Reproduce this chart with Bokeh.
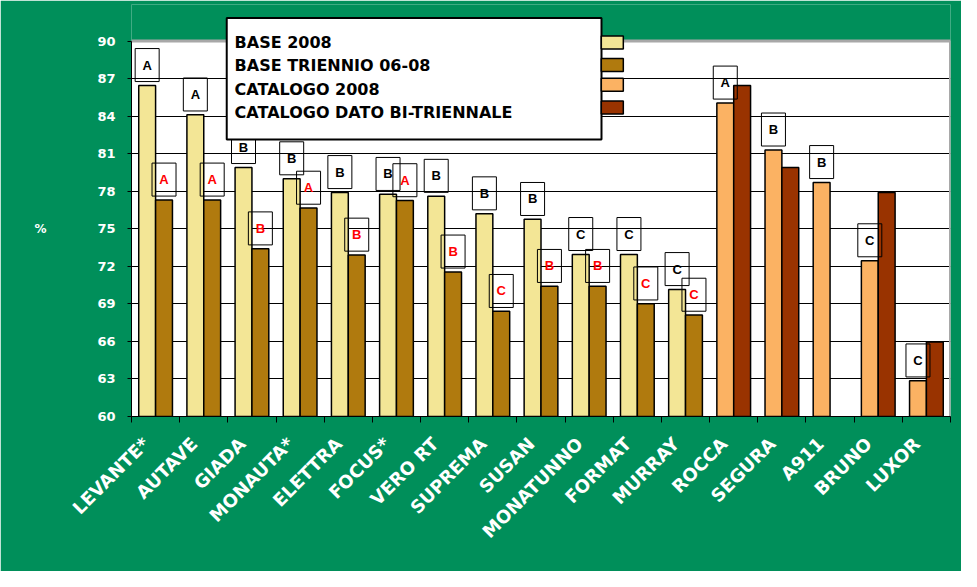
import math
import pandas as pd
from bokeh.plotting import figure
from bokeh.models import (ColumnDataSource, Range1d, LinearAxis, FixedTicker, Grid)
from bokeh.transform import dodge
from bokeh.core.properties import value
from bokeh.embed import file_html
from bokeh.resources import INLINE

# ---------------- data ----------------
categories = ["LEVANTE*", "AUTAVE", "GIADA", "MONAUTA*", "ELETTRA", "FOCUS*", "VERO RT",
              "SUPREMA", "SUSAN", "MONATUNNO", "FORMAT", "MURRAY", "ROCCA", "SEGURA",
              "A911", "BRUNO", "LUXOR"]
groups = ["BASE"] * 12 + ["CATALOGO"] * 5
values_2008 = [86.45, 84.1, 79.9, 79.0, 77.9, 77.75, 77.6, 76.2, 75.75, 72.95, 72.95, 70.15,
               85.05, 81.3, 78.7, 72.45, 62.85]
values_multi = [77.3, 77.3, 73.4, 76.65, 72.9, 77.25, 71.55, 68.4, 70.4, 70.4, 69.0, 68.1,
                86.45, 79.9, None, 77.9, 65.95]
letters_2008 = ["A", "A", "B", "B", "B", "B", "B", "B", "B", "C", "C", "C",
                "A", "B", "B", "C", "C"]
letters_multi = ["A", "A", "B", "A", "B", "A", "B", "C", "B", "B", "C", "C",
                 "", "", "", "", ""]
series_names = ["BASE 2008", "BASE TRIENNIO 06-08", "CATALOGO 2008", "CATALOGO DATO BI-TRIENNALE"]
y_ticks = [60, 63, 66, 69, 72, 75, 78, 81, 84, 87, 90]
y_label = "%"

# ---------------- style / layout ----------------
GREEN = "#008f5a"
COLORS = ["#f3e696", "#b07a0e", "#fbb263", "#993300"]
W, H = 961, 571
SX, SY = W / 977, H / 587           # reference pixels -> canvas pixels
BL = round(133.3 * SX)
BR = W - round(965.7 * SX)
BB = H - round(427.7 * SY)
BT = 4
n = len(categories)
frame_w = W - BL - BR
frame_h = H - BT - BB
PX_PER_UNIT = (427.7 - 41.7) * SY / (y_ticks[-1] - y_ticks[0])
y_end = y_ticks[0] + frame_h / PX_PER_UNIT
BAR_W = 0.35
BOX_W, BOX_H = 24, 33
BOX_RAISE = (4 * SY + BOX_H / 2) / PX_PER_UNIT
LABEL_SHIFT = 0.2   # rotated category labels end a little left of the category centre


def px_x(px):
    return -0.5 + (px * SX - BL) / (frame_w / n)


def px_y(py):
    return y_ticks[0] + (BT + frame_h - py * SY) / PX_PER_UNIT


df = pd.DataFrame(dict(x=list(range(n)), cat=categories, grp=groups,
                       v1=values_2008, v2=values_multi, l1=letters_2008, l2=letters_multi))
base = df[df.grp == "BASE"]
cat = df[df.grp == "CATALOGO"]
src_base = ColumnDataSource(base)
src_cat1 = ColumnDataSource(cat)
src_cat2 = ColumnDataSource(cat.dropna(subset=["v2"]))

p = figure(width=W, height=H, title=None, x_range=Range1d(-0.5, n - 0.5),
           y_range=Range1d(y_ticks[0], y_end), output_backend="svg", toolbar_location=None,
           x_axis_type=None, y_axis_type=None,
           min_border_left=BL, min_border_right=BR, min_border_top=BT, min_border_bottom=BB,
           background_fill_color=GREEN, border_fill_color=GREEN, outline_line_color=None)

# white plot area
p.quad(left=-0.5, right=n - 0.5, bottom=y_ticks[0], top=y_ticks[-1],
       fill_color="white", line_color=None, level="image")

grid = Grid(dimension=1, ticker=FixedTicker(ticks=y_ticks[1:-1]),
            grid_line_color="black", grid_line_width=1)
p.add_layout(grid)

p.line(x=[-0.5, n - 0.5, n - 0.5], y=[y_ticks[-1], y_ticks[-1], y_ticks[0]],
       line_color="#a8a8a8", line_width=3)

# bars
yr = p.y_range
p.vbar(x=dodge("x", -BAR_W / 2), top="v1", bottom=y_ticks[0], width=BAR_W, source=src_base,
       fill_color=COLORS[0], line_color="black", line_width=1.5)
p.vbar(x=dodge("x", BAR_W / 2), top="v2", bottom=y_ticks[0], width=BAR_W, source=src_base,
       fill_color=COLORS[1], line_color="black", line_width=1.5)
p.vbar(x=dodge("x", -BAR_W / 2), top="v1", bottom=y_ticks[0], width=BAR_W, source=src_cat1,
       fill_color=COLORS[2], line_color="black", line_width=1.5)
p.vbar(x=dodge("x", BAR_W / 2), top="v2", bottom=y_ticks[0], width=BAR_W, source=src_cat2,
       fill_color=COLORS[3], line_color="black", line_width=1.5)

# letter boxes
for src in (src_base, src_cat1):
    p.rect(x=dodge("x", -BAR_W / 2), y=dodge("v1", BOX_RAISE, range=yr), width=BOX_W,
           height=BOX_H, width_units="screen", height_units="screen", source=src,
           fill_color=None, line_color="black", line_width=1)
    p.text(x=dodge("x", -BAR_W / 2), y=dodge("v1", BOX_RAISE, range=yr), text="l1", source=src,
           text_align="center", text_baseline="middle", text_color="black",
           text_font=value("Liberation Sans"), text_font_style="bold", text_font_size="13px")
p.rect(x=dodge("x", BAR_W / 2), y=dodge("v2", BOX_RAISE, range=yr), width=BOX_W, height=BOX_H,
       width_units="screen", height_units="screen", source=src_base,
       fill_color=None, line_color="black", line_width=1)
p.text(x=dodge("x", BAR_W / 2), y=dodge("v2", BOX_RAISE, range=yr), text="l2", source=src_base,
       text_align="center", text_baseline="middle", text_color="#ff0000",
       text_font=value("Liberation Sans"), text_font_style="bold", text_font_size="13px")

# axes
yaxis = LinearAxis(ticker=FixedTicker(ticks=y_ticks), bounds=(y_ticks[0], y_ticks[-1]),
                   axis_line_color="black", axis_line_width=1,
                   major_tick_out=4, major_tick_in=0, major_tick_line_color="black",
                   minor_tick_line_color=None, major_label_standoff=12,
                   major_label_text_color="white", major_label_text_font="DejaVu Sans",
                   major_label_text_font_style="bold", major_label_text_font_size="13px")
p.add_layout(yaxis, "left")

mid = (y_ticks[0] + y_ticks[-1]) / 2
pct_axis = LinearAxis(ticker=FixedTicker(ticks=[mid]), major_label_overrides={mid: y_label},
                      axis_line_color=None, major_tick_line_color=None,
                      minor_tick_line_color=None, major_tick_out=0, major_tick_in=0,
                      major_label_standoff=48, major_label_text_color="white",
                      major_label_text_font="DejaVu Sans", major_label_text_font_style="bold",
                      major_label_text_font_size="12px")
p.add_layout(pct_axis, "left")

label_pos = [i - LABEL_SHIFT for i in range(n)]
xaxis = LinearAxis(ticker=FixedTicker(ticks=label_pos,
                                      minor_ticks=[i - 0.5 for i in range(n + 1)]),
                   major_label_overrides={pos: c for pos, c in zip(label_pos, categories)},
                   major_label_orientation=math.pi / 4,
                   axis_line_color="black", axis_line_width=1,
                   major_tick_line_color=None, major_tick_out=0, major_tick_in=0,
                   minor_tick_out=6, minor_tick_in=0, minor_tick_line_color="black",
                   major_label_standoff=18, major_label_text_color="white",
                   major_label_text_font="DejaVu Sans", major_label_text_font_style="bold",
                   major_label_text_font_size="18px")
p.add_layout(xaxis, "below")

# legend (drawn by hand: swatches sit outside the box on the right)
p.quad(left=px_x(230), right=px_x(611), top=px_y(18), bottom=px_y(143),
       fill_color="white", line_color="black", line_width=2)
leg_src = ColumnDataSource(dict(name=series_names, color=COLORS,
                                ty=[px_y(v) for v in (43, 67, 91, 115)],
                                sy=[px_y(v) for v in (43.3, 66.3, 86.7, 110)]))
p.text(x=px_x(238), y="ty", text="name", source=leg_src, text_align="left",
       text_baseline="middle", text_color="black", text_font=value("DejaVu Sans"),
       text_font_style="bold", text_font_size="16px")
p.rect(x=px_x(622), y="sy", width=22, height=13, width_units="screen", height_units="screen",
       source=leg_src, fill_color="color", line_color="black", line_width=1.5)

open("out.html", "w").write(file_html(p, INLINE))
